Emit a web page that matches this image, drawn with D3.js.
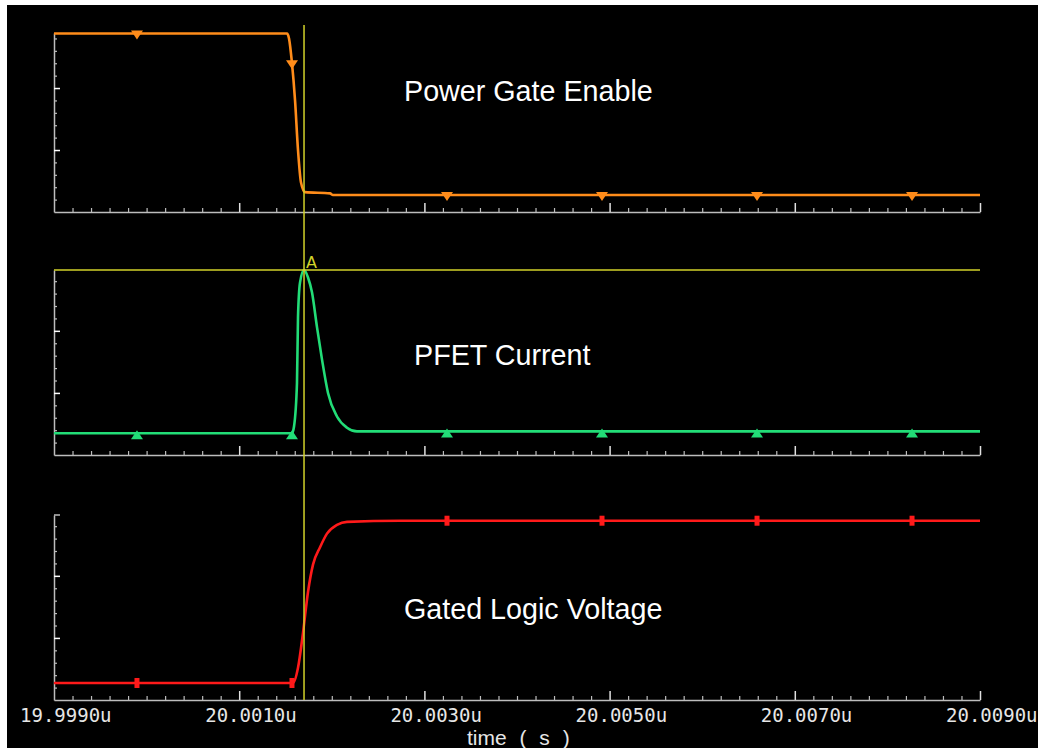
<!DOCTYPE html>
<meta charset="utf-8">
<script src="https://d3js.org/d3.v7.min.js"></script>
<style>
  body { margin: 0; background: #fff; }
</style>
<svg id="chart" width="1039" height="748"></svg>
<script>

    // time in microseconds
    const timeTicks = [19.9990, 20.0010, 20.0030, 20.0050, 20.0070, 20.0090];
    const tickLabels = ["19.9990u", "20.0010u", "20.0030u", "20.0050u", "20.0070u", "20.0090u"];
    const markerTimes = [19.999896, 20.001570, 20.003244, 20.004918, 20.006592, 20.008266];
    const cursorTime = 20.0017;

    // Power Gate Enable
    const gateT = [19.999, 20.001516, 20.001538, 20.001570, 20.001603, 20.001635, 20.001667, 20.001711, 20.001981, 20.002013, 20.009];
    const gateV = [1.44, 1.44, 1.40, 1.20, 0.90, 0.50, 0.24, 0.16, 0.15, 0.137, 0.137];

    // PFET Current
    const pfetT = [19.999, 20.001570, 20.001592, 20.001624, 20.001635, 20.001657, 20.001700, 20.001743, 20.001786, 20.001840, 20.001894, 20.001959, 20.002056, 20.002164, 20.002272, 20.009];
    const pfetI = [0.175, 0.175, 0.23, 0.58, 1.11, 1.39, 1.49, 1.43, 1.31, 1.03, 0.77, 0.50, 0.31, 0.22, 0.19, 0.19];

    // Gated Logic Voltage
    const logicT = [19.999, 20.001581, 20.001635, 20.001689, 20.001743, 20.001797, 20.001873, 20.001948, 20.002056, 20.002164, 20.002736, 20.009];
    const logicV = [0.137, 0.137, 0.26, 0.54, 0.87, 1.09, 1.23, 1.34, 1.41, 1.435, 1.444, 1.444];

    const svg = d3.select("#chart");

    // black plot window
    svg.append("rect")
        .attr("x", 7).attr("y", 5)
        .attr("width", 1031).attr("height", 743)
        .attr("fill", "#000");

    const x = d3.scaleLinear()
        .domain([19.999, 20.009])
        .range([54, 980]);

    const panels = [
        { t: gateT, v: gateV, top: 33, bottom: 212, max: 1.444, color: "#ff8c1a", marker: "down", title: "Power Gate Enable", tx: 404, ty: 101 },
        { t: pfetT, v: pfetI, top: 270, bottom: 455, max: 1.49, color: "#22dd77", marker: "up", title: "PFET Current", tx: 414, ty: 365 },
        { t: logicT, v: logicV, top: 515, bottom: 700, max: 1.49, color: "#ff1a1a", marker: "bar", title: "Gated Logic Voltage", tx: 404, ty: 619 }
    ];

    const axisColor = "#bdbdbd";

    panels.forEach((p, pi) => {
        const y = d3.scaleLinear()
            .domain([0, p.max])
            .range([p.bottom, p.top]);

        const g = svg.append("g");

        // y axis: minor ticks every 0.1, major every 0.5
        const minorY = d3.range(1, Math.floor(p.max * 10 + 0.001) + 1).map(i => i / 10).filter(v => v * 10 % 5 !== 0);
        const majorY = d3.range(1, Math.floor(p.max * 2 + 0.001) + 1).map(i => i / 2);

        g.append("g")
            .attr("transform", `translate(${x.range()[0]},0)`)
            .call(d3.axisRight(y).tickValues(minorY).tickSize(3).tickSizeOuter(0).tickFormat(""))
            .call(a => a.select(".domain").attr("stroke", axisColor).attr("stroke-width", 1.5))
            .call(a => a.selectAll(".tick line").attr("stroke", axisColor).attr("stroke-width", 1.2));

        g.append("g")
            .attr("transform", `translate(${x.range()[0]},0)`)
            .call(d3.axisRight(y).tickValues(majorY).tickSize(6).tickSizeOuter(0).tickFormat(""))
            .call(a => a.select(".domain").remove())
            .call(a => a.selectAll(".tick line").attr("stroke", "#fff").attr("stroke-width", 1.5));

        if (pi === 2) {
            g.append("line")
                .attr("x1", x.range()[0]).attr("x2", x.range()[0] + 6)
                .attr("y1", p.top).attr("y2", p.top)
                .attr("stroke", axisColor).attr("stroke-width", 1.5);
        }

        // x axis: minor every 0.0002u, major every 0.002u
        const minorX = d3.range(1, 50).filter(i => i % 10 !== 0).map(i => 19.999 + i * 0.0002);

        g.append("g")
            .attr("transform", `translate(0,${p.bottom})`)
            .call(d3.axisTop(x).tickValues(minorX).tickSize(4).tickSizeOuter(0).tickFormat(""))
            .call(a => a.select(".domain").attr("stroke", axisColor).attr("stroke-width", 1.5))
            .call(a => a.selectAll(".tick line").attr("stroke", axisColor).attr("stroke-width", 1.2));

        g.append("g")
            .attr("transform", `translate(0,${p.bottom})`)
            .call(d3.axisTop(x).tickValues(timeTicks.slice(1)).tickSize(9).tickSizeOuter(0).tickFormat(""))
            .call(a => a.select(".domain").remove())
            .call(a => a.selectAll(".tick line").attr("stroke", "#e0e0e0").attr("stroke-width", 1.5));

        // trace
        const pts = p.t.map((t, i) => [t, p.v[i]]);
        const line = d3.line()
            .x(d => x(d[0]))
            .y(d => y(d[1]))
            .curve(d3.curveMonotoneX);

        g.append("path")
            .datum(pts)
            .attr("d", line)
            .attr("fill", "none")
            .attr("stroke", p.color)
            .attr("stroke-width", 2.6);

        // markers sit on the trace
        const valueAt = d3.scaleLinear().domain(p.t).range(p.v);
        markerTimes.forEach(mt => {
            const mx = x(mt), my = y(valueAt(mt));
            if (p.marker === "down") {
                g.append("path")
                    .attr("d", `M${mx - 6},${my - 3}L${mx + 6},${my - 3}L${mx},${my + 6}Z`)
                    .attr("fill", p.color);
            } else if (p.marker === "up") {
                g.append("path")
                    .attr("d", `M${mx - 6},${my + 6}L${mx + 6},${my + 6}L${mx},${my - 3}Z`)
                    .attr("fill", p.color);
            } else {
                g.append("rect")
                    .attr("x", mx - 2.5).attr("y", my - 5)
                    .attr("width", 5).attr("height", 10)
                    .attr("fill", p.color);
            }
        });

        // title
        svg.append("text")
            .attr("x", p.tx).attr("y", p.ty)
            .attr("fill", "#fff")
            .style("font-family", "Liberation Sans, Arial, sans-serif")
            .style("font-size", "28.7px")
            .text(p.title);

        if (pi === 1) {
            // horizontal cursor at the current peak
            svg.append("line")
                .attr("x1", x.range()[0]).attr("x2", x.range()[1])
                .attr("y1", y(d3.max(p.v))).attr("y2", y(d3.max(p.v)))
                .attr("stroke", "#d2d22a").attr("stroke-width", 1.5);
            svg.append("text")
                .attr("x", x(cursorTime) + 2).attr("y", y(d3.max(p.v)) - 2)
                .attr("fill", "#d2d22a")
                .style("font-family", "DejaVu Sans, sans-serif")
                .style("font-size", "16px")
                .text("A");
        }
    });

    // vertical cursor
    svg.append("line")
        .attr("x1", x(cursorTime)).attr("x2", x(cursorTime))
        .attr("y1", 25).attr("y2", 700)
        .attr("stroke", "#d2d22a").attr("stroke-width", 1.5);

    // time tick labels
    svg.append("g")
        .selectAll("text")
        .data(timeTicks)
        .join("text")
        .attr("x", d => x(d) - 34)
        .attr("y", 722)
        .attr("fill", "#e6e6e6")
        .style("font-family", "DejaVu Sans Mono, monospace")
        .style("font-size", "19px")
        .text((d, i) => tickLabels[i]);

    svg.append("text")
        .attr("x", 467).attr("y", 745)
        .attr("fill", "#e6e6e6")
        .style("font-family", "Liberation Sans, Arial, sans-serif")
        .style("font-size", "21px")
        .style("word-spacing", "7px")
        .text("time ( s )");

</script>
